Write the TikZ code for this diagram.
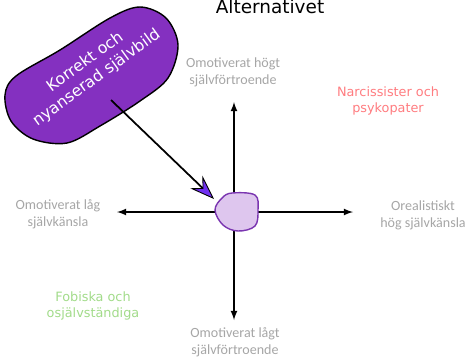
\documentclass[tikz,border=0pt]{standalone}
\usepackage{fontspec}
\setmainfont{Carlito}
\newfontfamily\handfont{DejaVu Sans}
\usetikzlibrary{arrows, arrows.meta, calc}

\definecolor{labelgray}{HTML}{A6A6A6}
\definecolor{narcred}{HTML}{FF7C80}
\definecolor{fobgreen}{HTML}{A2DB8A}
\definecolor{calloutpurple}{HTML}{8430C0}
\definecolor{tippurple}{HTML}{7030F0}
\definecolor{blobline}{HTML}{7A35B0}
\definecolor{blobfill}{HTML}{DEC6EE}

\begin{document}
\begin{tikzpicture}[x=0.02cm, y=-0.02cm,
    axislabel/.style={text=labelgray, align=center, font=\fontsize{8}{9.6}\selectfont},
    grouplabel/.style={align=center, font=\handfont\fontsize{7.3}{9.6}\selectfont}]
            \useasboundingbox (0,0) rectangle (476,360);

            \coordinate (O)   at (234,212);
            \coordinate (XAxisMin) at (117,212);
            \coordinate (XAxisMax) at (353,212);
            \coordinate (YAxisMin) at (234,320);
            \coordinate (YAxisMax) at (234,102);

            \draw [line width=0.8pt, black,-latex] (O) -- (XAxisMin);% left
            \draw [line width=0.8pt, black,-latex] (O) -- (XAxisMax);% right
            \draw [line width=0.8pt, black,-latex] (O) -- (YAxisMin);% down
            \draw [line width=0.8pt, black,-latex] (O) -- (YAxisMax);% up

            % axis ends
            \node[axislabel] (upLabel)    at (233,72)  {Omotiverat högt\\självförtroende};
            \node[axislabel] (downLabel)  at (235,342) {Omotiverat lågt\\självförtroende};
            \node[axislabel] (leftLabel)  at (58,214)  {Omotiverat låg\\självkänsla};
            \node[axislabel] (rightLabel) at (423,215) {Orealistiskt\\hög självkänsla};

            % groups in the corners
            \node[grouplabel, text=narcred]  (narc) at (388,101) {Narcissister och\\psykopater};
            \node[grouplabel, text=fobgreen] (fob)  at (93,306)  {Fobiska och\\osjälvständiga};

            \node[font=\handfont\fontsize{10.5}{12}\selectfont, anchor=base] (title) at (270,13) {Alternativet};

            % the blob in the middle
            \draw[line width=0.8pt, blobline, fill=blobfill] plot[smooth cycle, tension=0.6] coordinates
                {(215,210) (222,198) (232,193) (255,195) (258,210) (255,226) (238,231) (223,225)};
            \coordinate (blob) at (214,199);

            % callout
            \draw[line width=0.8pt, black, fill=calloutpurple] plot[smooth cycle, tension=0.55] coordinates
                {(5,95) (16,76) (60,50) (110,18) (140,7) (166,18) (178,45) (168,78) (140,101) (100,126) (67,143) (33,139) (11,121)};
            \node[text=white, align=center, rotate=36, font=\handfont\fontsize{9}{11}\selectfont] (self) at (91,70)
                {Korrekt och\\nyanserad självbild};
            \coordinate (selfFrom) at (111,100);

            \draw[line width=1pt, black, -{Stealth[length=14pt, width=10pt, inset=5pt, line width=0.5pt, fill=tippurple]}] (selfFrom) -- (blob);
        \end{tikzpicture}
\end{document}
